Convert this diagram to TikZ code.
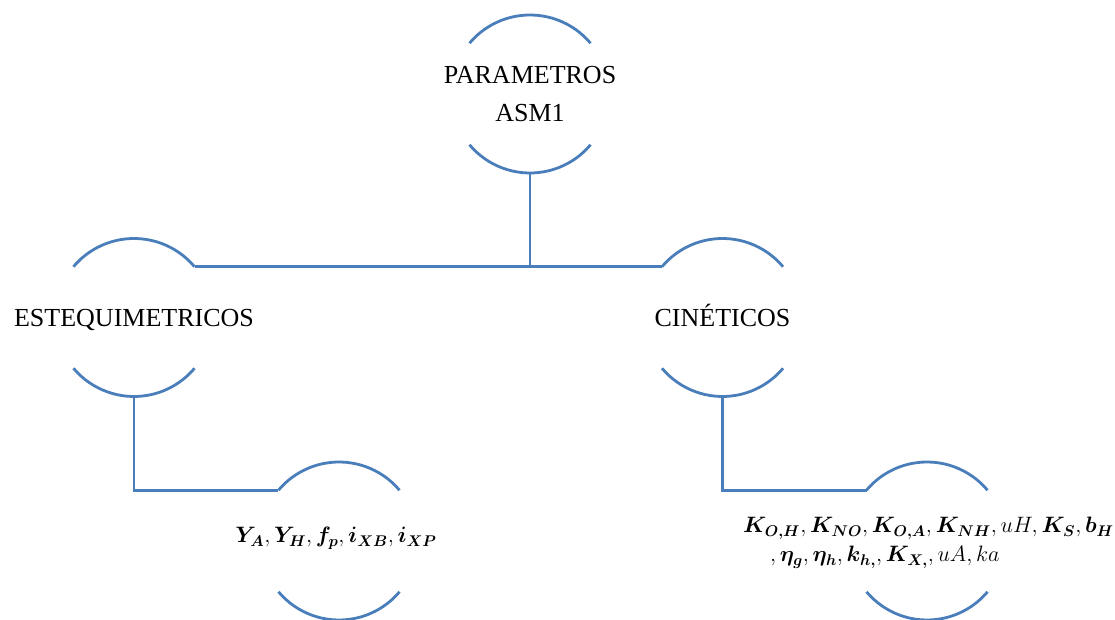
\documentclass[tikz,border=0pt]{standalone}
\usepackage{bm}
\usepackage{graphicx}
\usepackage{fontspec}
\setmainfont{Liberation Serif}
\definecolor{lineblue}{RGB}{74,126,187}
\newcommand{\paramtext}[1]{\scalebox{1.075}{#1}}
\begin{document}
\begin{tikzpicture}[x=1pt,y=1pt,
  ring/.style={circle, draw=none, minimum size=158pt, inner sep=0pt, outer sep=0pt},
  link/.style={draw=lineblue, line width=2.8pt},
  caption/.style={font=\fontsize{26}{38}\selectfont, align=center, inner sep=0pt},
  params/.style={font=\fontsize{22}{29}\selectfont, inner sep=0pt}]
\useasboundingbox (0,0) rectangle (1115,620);

% circles (only their upper and lower arcs are drawn)
\node[ring] (top)  at (530,526)   {};
\node[ring] (est)  at (134,302.5) {};
\node[ring] (cin)  at (722.5,302.5) {};
\node[ring] (estp) at (339,79)    {};
\node[ring] (cinp) at (927,79)    {};
\foreach \n in {top,est,cin,estp,cinp} {
  \draw[link] (\n.40) arc[start angle=40, end angle=140, radius=79pt];
  \draw[link] (\n.220) arc[start angle=220, end angle=320, radius=79pt];
}

% connectors
\draw[link] (est.40) -- (cin.140);
\draw[link] (top.south) -- (top.south |- est.40);
\draw[link] (est.south) |- (estp.140);
\draw[link] (cin.south) |- (cinp.140);

% labels
\node[caption] (topt) at (top) {PARAMETROS\\ASM1};
\node[caption, anchor=base] (estt) at (134,293) {ESTEQUIMETRICOS};
\node[caption, anchor=base] (cint) at (722.5,293) {CINÉTICOS};

\node[params, anchor=base] (estl) at (336,77)
  {\paramtext{$\bm{Y_A}, \bm{Y_H}, \bm{f_p}, \bm{i_{XB}}, \bm{i_{XP}}$}};
\node[params, anchor=base west] (cinl1) at (743,87)
  {\paramtext{$\bm{K_{O,H}}, \bm{K_{NO}}, \bm{K_{O,A}}, \bm{K_{NH}}, uH, \bm{K_S}, \bm{b_H}$}};
\node[params, anchor=base west] (cinl2) at (770,58)
  {\paramtext{$, \bm{\eta_g}, \bm{\eta_h}, \bm{k_{h,}}, \bm{K_{X,}}, uA, ka$}};
\end{tikzpicture}
\end{document}
